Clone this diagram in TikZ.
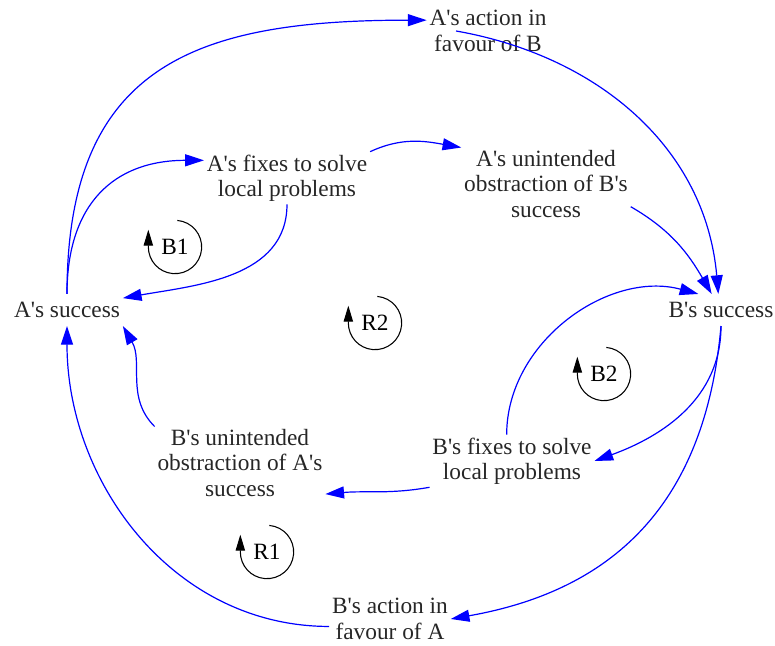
\documentclass[tikz,border=0pt]{standalone}
\usepackage{fontspec}
\setmainfont{Liberation Serif}[Ligatures=TeXOff]
\usetikzlibrary{positioning, arrows.meta}

\begin{document}
\begin{tikzpicture}[
            x=0.75pt, y=0.75pt,
            var/.style={align=center, inner sep=2pt, text=black!85, font=\fontsize{17.5}{19}\selectfont},
            link/.style={draw=blue, line width=0.9pt, -{Triangle[length=14pt, width=9pt]}}, % causal links
            looptag/.style={font=\fontsize{17.5}{19}\selectfont},
            looparrow/.style={draw=black, line width=0.8pt, -{Triangle[length=12pt, width=7pt]}}
        ]
        \useasboundingbox (0,0) rectangle (775,646);

        % Nodes
        \node[var, inner ysep=6pt] (As) at (67,336) {A's success};
        \node[var, inner ysep=6pt] (Bs) at (721,336) {B's success};
        \node[var] (Aact) at (488,615) {A's action in\\favour of B};
        \node[var] (Afix) at (287,468) {A's fixes to solve\\local problems};
        \node[var] (Aobs) at (546,462) {A's unintended\\obstraction of B's\\success};
        \node[var] (Bfix) at (512,185) {B's fixes to solve\\local problems};
        \node[var] (Bobs) at (240,183) {B's unintended\\obstraction of A's\\success};
        \node[var] (Bact) at (390,27) {B's action in\\favour of A};

        % Loop labels
        \node[looptag] (B1) at (175,399) {B1};
        \node[looptag] (R2) at (375,323) {R2};
        \node[looptag] (B2) at (604,272) {B2};
        \node[looptag] (R1) at (267,94) {R1};

        \foreach \lp in {B1, R2, B2, R1}
            \draw[looparrow] ([shift={(85:20pt)}]\lp.center) arc[start angle=85, end angle=-180, radius=20pt] -- ++(0,13pt);

        % Connections
        \draw[link] (As.north) to[out=90, in=180, looseness=1.3] (Aact.170);
        \draw[link] ([xshift=-70pt]Aact.east) to[out=-10, in=95] ([xshift=-2pt]Bs.north);
        \draw[link] (As.north) to[out=90, in=180, looseness=1.2] (Afix.168);
        \draw[link] (Afix.south) to[out=-90, in=10] (As.12);
        \draw[link] (Afix.north east) to[out=25, in=170] (Aobs.north west);
        \draw[link] (Aobs.-15) to[out=-30, in=120] ([xshift=-7pt]Bs.north);
        \draw[link] (Bs.south) to[out=-90, in=20] (Bfix.east);
        \draw[link] ([xshift=-4pt]Bfix.north) to[out=90, in=165] ([xshift=-17pt]Bs.north);
        \draw[link] (Bfix.south west) to[out=190, in=5] (Bobs.-20);
        \draw[link] (Bobs.north west) to[out=135, in=-60] (As.south east);
        \draw[link] (Bs.south) to[out=-95, in=10, looseness=1.1] (Bact.east);
        \draw[link] (Bact.187) to[out=180, in=-90] (As.south);

\end{tikzpicture}
\end{document}
